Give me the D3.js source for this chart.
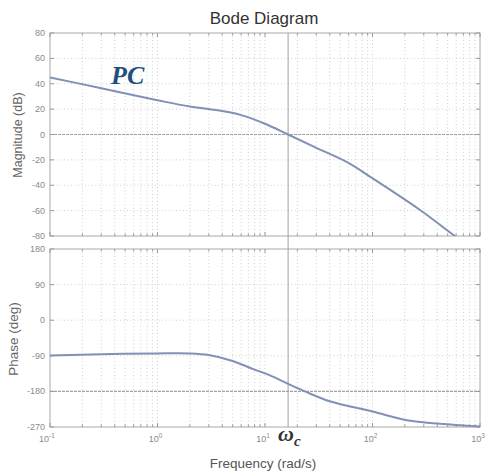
<!DOCTYPE html>
<html>
<head>
<meta charset="utf-8">
<script src="https://cdn.jsdelivr.net/npm/d3@7"></script>
<style>
  body { margin:0; background:#fff; }
  #chart { width:490px; height:476px; }
  text { font-family: "Liberation Sans", Arial, sans-serif; }
  text.serif { font-family: "Liberation Serif", "DejaVu Serif", serif; }
</style>
</head>
<body>
<div id="chart"></div>
<script>
// Bode diagram of the PC loop

const magFreq  = [0.1, 0.3, 1, 2, 4, 6, 10, 16.4, 30, 58, 100, 277, 585, 800];
const magDb    = [45, 36.5, 27, 22, 18.5, 15.3, 8.5, 0, -10.5, -21.8, -34.5, -59.5, -80, -88];

const phaseFreq = [0.1, 0.3, 1, 2, 3, 5, 8, 11, 16.4, 23.5, 40, 100, 210, 425, 1000];
const phaseDeg  = [-89, -86, -84, -84, -88, -103, -125, -139, -161, -180, -205, -231, -253, -262, -269];

const magTicks   = [80, 60, 40, 20, 0, -20, -40, -60, -80];
const phaseTicks = [180, 90, 0, -90, -180, -270];
const decades    = [-1, 0, 1, 2, 3];
const omegaC     = 16.4;

const W = 490, H = 476;
const L = 50, R = 480;
const magTop = 33, magBot = 236;
const phTop = 249, phBot = 427;

const svg = d3.select("#chart").append("svg").attr("width", W).attr("height", H);

const x = d3.scaleLog().domain([0.1, 1000]).range([L, R]);
const yMag = d3.scaleLinear().domain([-80, 80]).range([magBot, magTop]);
const yPh  = d3.scaleLinear().domain([-270, 180]).range([phBot, phTop]);

// minor + major log positions
const logGrid = [];
for (let e = -1; e < 3; e++) for (let k = 1; k <= 9; k++) logGrid.push(k * Math.pow(10, e));
logGrid.push(1000);

svg.append("defs").append("clipPath").attr("id", "clipMag")
  .append("rect").attr("x", L).attr("y", magTop).attr("width", R - L).attr("height", magBot - magTop);

function panel(y, ticks, top, bot, strongLine){
  const g = svg.append("g");
  // vertical grid
  g.selectAll("line.vg").data(logGrid.filter(f => f > 0.1 && f < 1000)).join("line")
    .attr("x1", d => x(d)).attr("x2", d => x(d)).attr("y1", top).attr("y2", bot)
    .attr("stroke", "#c4c4c4").attr("stroke-width", 0.8).attr("stroke-dasharray", "1,2.5");
  // horizontal grid
  g.selectAll("line.hg").data(ticks.slice(1, -1)).join("line")
    .attr("x1", L).attr("x2", R).attr("y1", d => y(d)).attr("y2", d => y(d))
    .attr("stroke", d => d === strongLine ? "#a0a0a0" : "#c4c4c4")
    .attr("stroke-width", d => d === strongLine ? 1.2 : 0.8)
    .attr("stroke-dasharray", d => d === strongLine ? "3,1" : "1,2.5");
  // box
  g.append("rect").attr("x", L).attr("y", top).attr("width", R - L).attr("height", bot - top)
    .attr("fill", "none").attr("stroke", "#a8a8a8").attr("stroke-width", 1);
  // y ticks both sides
  ticks.forEach(t => {
    g.append("line").attr("x1", L).attr("x2", L + 4).attr("y1", y(t)).attr("y2", y(t)).attr("stroke", "#999");
    g.append("line").attr("x1", R - 4).attr("x2", R).attr("y1", y(t)).attr("y2", y(t)).attr("stroke", "#999");
  });
  // x ticks top & bottom
  logGrid.forEach(f => {
    const major = Math.abs(Math.log10(f) - Math.round(Math.log10(f))) < 1e-9;
    const len = major ? 4 : 2.5;
    g.append("line").attr("x1", x(f)).attr("x2", x(f)).attr("y1", bot).attr("y2", bot - len).attr("stroke", "#999");
    g.append("line").attr("x1", x(f)).attr("x2", x(f)).attr("y1", top).attr("y2", top + len).attr("stroke", "#999");
  });
  // y tick labels
  g.selectAll("text.yl").data(ticks).join("text")
    .attr("x", L - 5).attr("y", d => y(d) + 3)
    .attr("text-anchor", "end").attr("font-size", 9).attr("fill", "#8a8a8a")
    .text(d => d);
  return g;
}

panel(yMag, magTicks, magTop, magBot, 0);
panel(yPh, phaseTicks, phTop, phBot, -180);

// crossover line
svg.append("line").attr("x1", x(omegaC)).attr("x2", x(omegaC)).attr("y1", magTop).attr("y2", phBot)
  .attr("stroke", "#a0a0a0").attr("stroke-width", 1);

// curves
const curveColor = "#8190b6";
const magLine = d3.line().x((d, i) => x(magFreq[i])).y(d => yMag(d)).curve(d3.curveCatmullRom.alpha(0.5));
svg.append("path").attr("d", magLine(magDb)).attr("clip-path", "url(#clipMag)")
  .attr("fill", "none").attr("stroke", curveColor).attr("stroke-width", 2);

const phLine = d3.line().x((d, i) => x(phaseFreq[i])).y(d => yPh(d)).curve(d3.curveCatmullRom.alpha(0.5));
svg.append("path").attr("d", phLine(phaseDeg))
  .attr("fill", "none").attr("stroke", curveColor).attr("stroke-width", 2);

// x tick labels 10^n
decades.forEach(e => {
  const t = svg.append("text").attr("x", x(Math.pow(10, e)) - (e < 0 ? 3 : 2)).attr("y", 442)
    .attr("text-anchor", "middle").attr("font-size", 9).attr("fill", "#8a8a8a");
  t.append("tspan").text("10");
  t.append("tspan").attr("dy", -4).attr("font-size", 6.5).text(e);
});

// titles and axis labels
svg.append("text").attr("x", 264).attr("y", 24).attr("text-anchor", "middle")
  .attr("font-size", 17).attr("fill", "#333").text("Bode Diagram");
svg.append("text").attr("transform", "translate(22,135) rotate(-90)").attr("text-anchor", "middle")
  .attr("font-size", 12.5).attr("fill", "#666").text("Magnitude (dB)");
svg.append("text").attr("transform", "translate(18,339) rotate(-90)").attr("text-anchor", "middle")
  .attr("font-size", 13.5).attr("fill", "#666").text("Phase (deg)");
svg.append("text").attr("x", 263).attr("y", 468).attr("text-anchor", "middle")
  .attr("font-size", 13.5).attr("fill", "#555").text("Frequency  (rad/s)");

// annotations
svg.append("text").attr("class", "serif").attr("x", 111).attr("y", 84)
  .attr("font-style", "italic").attr("font-weight", "bold")
  .attr("font-size", 26).attr("fill", "#1f4f7f").text("PC");
const wc = svg.append("text").attr("class", "serif").attr("x", 278).attr("y", 441)
  .attr("font-style", "italic").attr("font-weight", "bold")
  .attr("font-size", 22).attr("fill", "#333");
wc.append("tspan").text("ω");
wc.append("tspan").attr("dy", 5).attr("font-size", 15).text("c");
</script>
</body>
</html>
